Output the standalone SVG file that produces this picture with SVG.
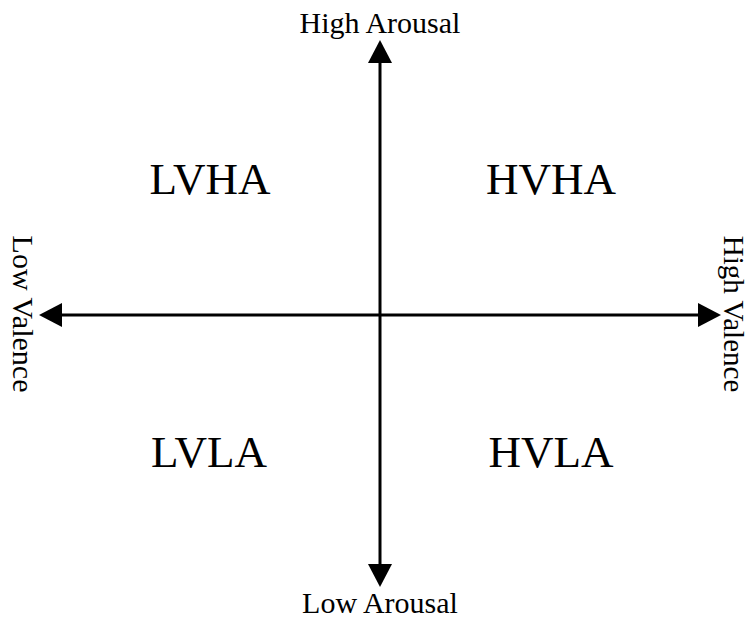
<svg xmlns="http://www.w3.org/2000/svg" width="749" height="619" viewBox="0 0 749 619">
<style>
text { font-family: "Liberation Serif", "Times New Roman", serif; fill: #000; }
.axis { font-size: 30px; }
.quad { font-size: 45px; text-anchor: middle; }
.ax { stroke: #000; stroke-width: 3; fill: none; }
</style>
<defs>
<marker id="arrow" viewBox="0 0 23 24" refX="0" refY="12" markerWidth="23" markerHeight="24" markerUnits="userSpaceOnUse" orient="auto">
<path d="M0,0 L23,12 L0,24 Z" fill="#000"/>
</marker>
</defs>
<rect width="749" height="619" fill="#fff"/>
<g id="connectors">
<line class="ax" x1="380" y1="315" x2="380" y2="63" marker-end="url(#arrow)"/>
<line class="ax" x1="380" y1="315" x2="380" y2="564" marker-end="url(#arrow)"/>
<line class="ax" x1="380" y1="315" x2="62" y2="315" marker-end="url(#arrow)"/>
<line class="ax" x1="380" y1="315" x2="698" y2="315" marker-end="url(#arrow)"/>
</g>
<g id="high-arousal"><text class="axis" x="380" y="33" text-anchor="middle">High Arousal</text></g>
<g id="low-arousal"><text class="axis" x="380" y="613" text-anchor="middle">Low Arousal</text></g>
<g id="low-valence"><text class="axis" text-anchor="middle" transform="translate(13,314) rotate(90)">Low Valence</text></g>
<g id="high-valence"><text class="axis" text-anchor="middle" style="font-size:29px" transform="translate(723.5,314) rotate(90)">High Valence</text></g>
<g id="lvha"><text class="quad" x="210" y="194">LVHA</text></g>
<g id="hvha"><text class="quad" x="551" y="194">HVHA</text></g>
<g id="lvla"><text class="quad" x="209" y="467">LVLA</text></g>
<g id="hvla"><text class="quad" x="551" y="467">HVLA</text></g>
</svg>
